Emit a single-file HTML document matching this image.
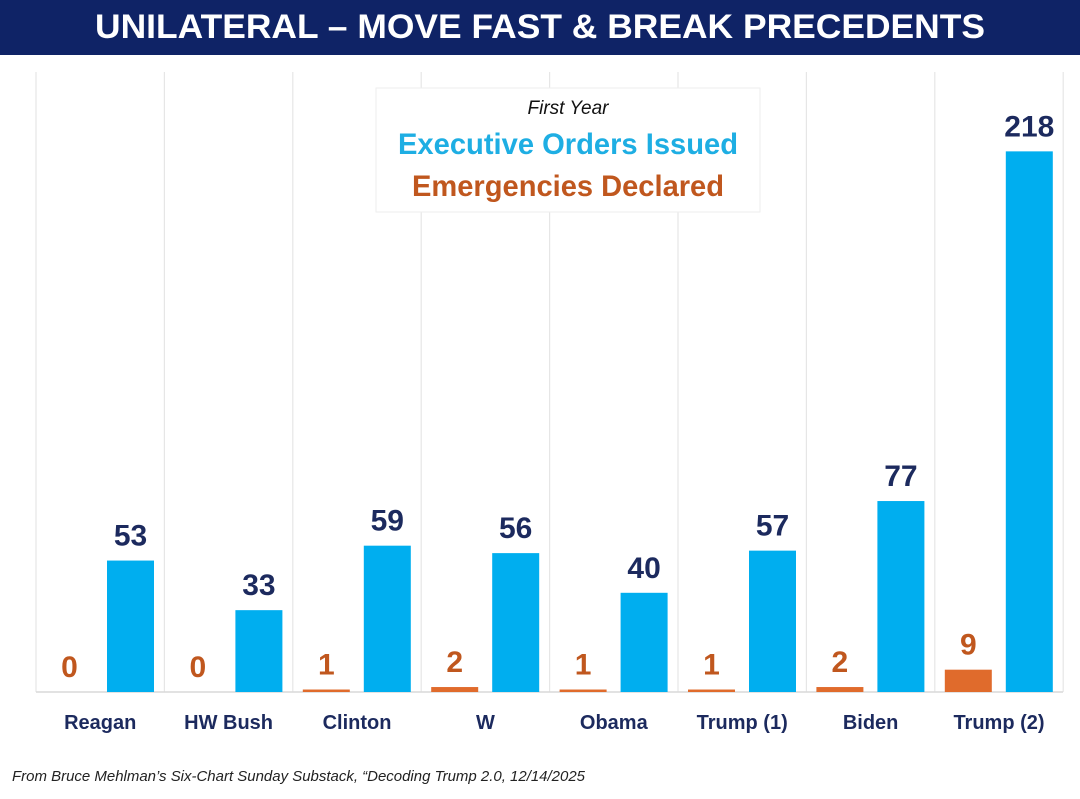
<!DOCTYPE html>
<html><head><meta charset="utf-8"><style>
body{margin:0;width:1080px;height:794px;background:#fff;overflow:hidden;font-family:"Liberation Sans",sans-serif}
</style></head><body>
<svg width="1080" height="794">
<rect x="0" y="0" width="1080" height="55" fill="#0f2366"/>
<text x="540" y="38" text-anchor="middle" fill="#fff" font-size="34" font-weight="bold" textLength="890" lengthAdjust="spacingAndGlyphs">UNILATERAL – MOVE FAST &amp; BREAK PRECEDENTS</text>
<g id="grid"></g>
<line x1="36" y1="692" x2="1063" y2="692" stroke="#d9d9d9" stroke-width="1.5"/>
<g id="bars"></g>
<rect x="376" y="88" width="384" height="124" fill="#fff" stroke="#eee"/>
<text x="568" y="114" text-anchor="middle" font-size="19" font-style="italic" fill="#111">First Year</text>
<text x="568" y="154" text-anchor="middle" font-size="30" font-weight="bold" fill="#1eaee3" textLength="340" lengthAdjust="spacingAndGlyphs">Executive Orders Issued</text>
<text x="568" y="196" text-anchor="middle" font-size="30" font-weight="bold" fill="#c0571e" textLength="312" lengthAdjust="spacingAndGlyphs">Emergencies Declared</text>
<text x="12" y="781" font-size="14.5" font-style="italic" fill="#222" textLength="573" lengthAdjust="spacingAndGlyphs">From Bruce Mehlman’s Six-Chart Sunday Substack, “Decoding Trump 2.0, 12/14/2025</text>
</svg>
<script>
const categories=["Reagan","HW Bush","Clinton","W","Obama","Trump (1)","Biden","Trump (2)"];
const executiveOrders=[53,33,59,56,40,57,77,218];
const emergencies=[0,0,1,2,1,1,2,9];
const NS="http://www.w3.org/2000/svg";
const x0=36,gw=128.4,base=692,k=2.48;
const gx=i=>x0+i*gw;
const y=v=>base-v*k;
function mk(t,a,p){const e=document.createElementNS(NS,t);for(const n in a)e.setAttribute(n,a[n]);p.appendChild(e);return e;}
const grid=document.getElementById('grid'),bars=document.getElementById('bars');
for(let i=0;i<=categories.length;i++){
 const l=mk('line',{x1:gx(i),x2:gx(i),y1:72,y2:692,stroke:'#e6e6e6','stroke-width':1.2},grid);
 
 
}
categories.forEach((c,i)=>{
 const ox=gx(i)+10,bx=gx(i)+71,w=47;
 const eh=emergencies[i]*k;
 const r1=mk('rect',{x:ox,y:base-eh,width:w,height:eh,fill:'#e06b2c'},bars);
 
 
 const t1=mk('text',{x:ox+w/2,y:y(emergencies[i])-15,'text-anchor':'middle','font-size':30,'font-weight':'bold',fill:'#c0571e'},bars);
 t1.textContent=emergencies[i];
 
 
 const r2=mk('rect',{x:bx,y:y(executiveOrders[i]),width:w,height:executiveOrders[i]*k,fill:'#00aeef'},bars);
 
 
 const t2=mk('text',{x:bx+w/2,y:y(executiveOrders[i])-15,'text-anchor':'middle','font-size':30,'font-weight':'bold',fill:'#1c2a5e'},bars);
 t2.textContent=executiveOrders[i];
 
 
 const t3=mk('text',{x:gx(i)+gw/2,y:729,'text-anchor':'middle','font-size':20,'font-weight':'bold',fill:'#1c2a5e'},bars);
 t3.textContent=c;
 
 
});
</script>
</body></html>
